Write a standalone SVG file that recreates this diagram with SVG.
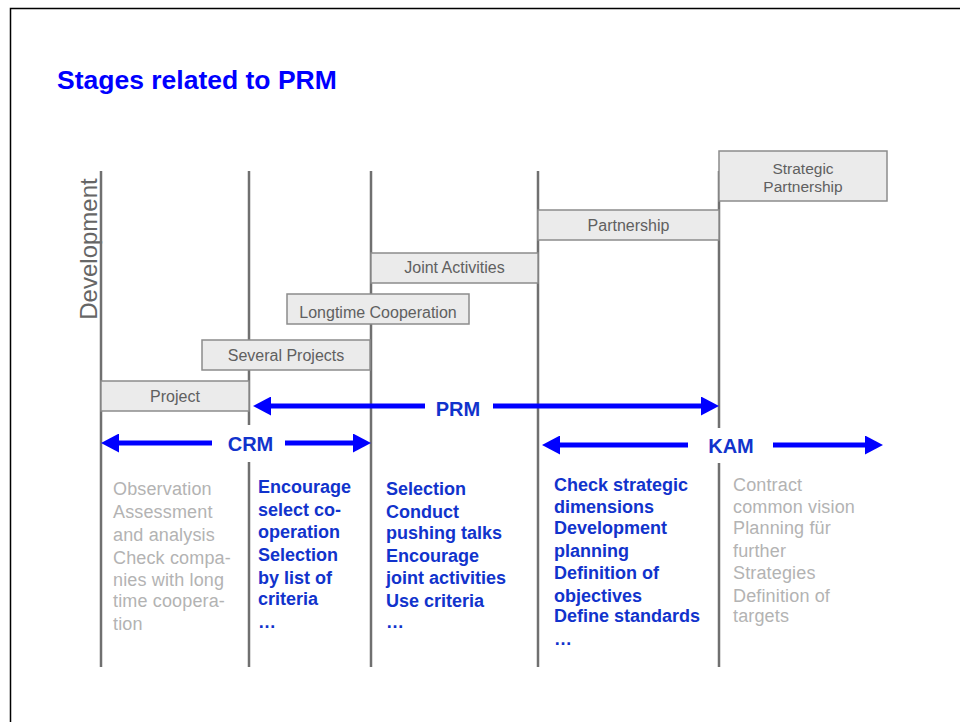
<svg xmlns="http://www.w3.org/2000/svg" width="960" height="722" viewBox="0 0 960 722">
<style>
.stage{fill:#ebebeb;stroke:#8c8c8c;stroke-width:1.5}
.lbl{font-family:"Liberation Sans",Arial,sans-serif;font-size:16px;fill:#606060;text-anchor:middle}
.vl{stroke:#707070;stroke-width:2.5}
.arr{stroke:#0000ff;stroke-width:5;fill:none;marker-end:url(#ah)}
.alab{font-family:"Liberation Sans",Arial,sans-serif;font-size:20px;font-weight:bold;fill:#1133cc;text-anchor:middle}
.gray{font-family:"Liberation Sans",Arial,sans-serif;font-size:18px;fill:#b3b3b3;letter-spacing:0.15px}
.blue{font-family:"Liberation Sans",Arial,sans-serif;font-size:18px;font-weight:bold;fill:#1133cc}
</style>
<defs>
<marker id="ah" viewBox="0 0 18 19" refX="8" refY="9.5" markerWidth="18" markerHeight="19" markerUnits="userSpaceOnUse" orient="auto">
<path d="M0,0 L18,9.5 L0,19 z" fill="#0000ff"/>
</marker>
</defs>
<rect x="0" y="0" width="960" height="722" fill="#ffffff"/>
<rect x="10.5" y="8.5" width="1000" height="800" fill="none" stroke="#000" stroke-width="1.5"/>
<text x="57" y="89" font-family="Liberation Sans,Arial,sans-serif" font-size="26.5" font-weight="bold" fill="#0000ff">Stages related to PRM</text>
<text x="97" y="249" transform="rotate(-90 97 249)" font-family="Liberation Sans,Arial,sans-serif" font-size="24" fill="#666" text-anchor="middle">Development</text>
<g id="axes">
<line class="vl" x1="101" y1="171" x2="101" y2="667"/>
<line class="vl" x1="249" y1="171" x2="249" y2="667"/>
<line class="vl" x1="371" y1="171" x2="371" y2="667"/>
<line class="vl" x1="538" y1="171" x2="538" y2="667"/>
<line class="vl" x1="719" y1="171" x2="719" y2="667"/>
</g>
<g id="project"><rect class="stage" x="101" y="381" width="148" height="30"/><text class="lbl" x="175" y="402">Project</text></g>
<g id="several-projects"><rect class="stage" x="202" y="340" width="168" height="30"/><text class="lbl" x="286" y="361">Several Projects</text></g>
<g id="longtime-cooperation"><rect class="stage" x="287" y="294" width="182" height="30"/><text class="lbl" x="378" y="318">Longtime Cooperation</text></g>
<g id="joint-activities"><rect class="stage" x="371" y="253" width="167" height="30"/><text class="lbl" x="454.5" y="273">Joint Activities</text></g>
<g id="partnership"><rect class="stage" x="538" y="210" width="181" height="30"/><text class="lbl" x="628.5" y="231">Partnership</text></g>
<g id="strategic-partnership"><rect class="stage" x="719" y="151" width="168" height="50"/><text class="lbl" x="803" y="174" style="font-size:15.5px">Strategic</text><text class="lbl" x="803" y="192" style="font-size:15.5px">Partnership</text></g>
<g id="connectors">
<line class="arr" x1="425" y1="406" x2="263" y2="406"/>
<line class="arr" x1="493" y1="406" x2="709" y2="406"/>
<line class="arr" x1="212" y1="443" x2="111" y2="443"/>
<line class="arr" x1="285" y1="443" x2="361" y2="443"/>
<line class="arr" x1="688" y1="445" x2="552" y2="445"/>
<line class="arr" x1="773" y1="445" x2="873" y2="445"/>
</g>
<g id="label-prm"><text class="alab" x="458" y="416">PRM</text></g>
<g id="label-crm"><rect x="216" y="425" width="66" height="37" fill="#fff"/><text class="alab" x="250.5" y="451">CRM</text></g>
<g id="label-kam"><rect x="694" y="428" width="74" height="35" fill="#fff"/><text class="alab" x="731" y="453">KAM</text></g>
<g id="col1" class="gray">
<text x="113" y="495">Observation</text>
<text x="113" y="518">Assessment</text>
<text x="113" y="541">and analysis</text>
<text x="113" y="564">Check compa-</text>
<text x="113" y="586">nies with long</text>
<text x="113" y="607">time coopera-</text>
<text x="113" y="630">tion</text>
</g>
<g id="col2" class="blue">
<text x="258" y="493">Encourage</text>
<text x="258" y="516">select co-</text>
<text x="258" y="538">operation</text>
<text x="258" y="561">Selection</text>
<text x="258" y="584">by list of</text>
<text x="258" y="605">criteria</text>
<text x="258" y="628">…</text>
</g>
<g id="col3" class="blue">
<text x="386" y="495">Selection</text>
<text x="386" y="518">Conduct</text>
<text x="386" y="539">pushing talks</text>
<text x="386" y="562">Encourage</text>
<text x="386" y="584">joint activities</text>
<text x="386" y="607">Use criteria</text>
<text x="386" y="628">…</text>
</g>
<g id="col4" class="blue">
<text x="554" y="491">Check strategic</text>
<text x="554" y="513">dimensions</text>
<text x="554" y="534">Development</text>
<text x="554" y="557">planning</text>
<text x="554" y="579">Definition of</text>
<text x="554" y="602">objectives</text>
<text x="554" y="622">Define standards</text>
<text x="554" y="645">…</text>
</g>
<g id="col5" class="gray">
<text x="733" y="491">Contract</text>
<text x="733" y="513">common vision</text>
<text x="733" y="534">Planning für</text>
<text x="733" y="557">further</text>
<text x="733" y="579">Strategies</text>
<text x="733" y="602">Definition of</text>
<text x="733" y="622">targets</text>
</g>
</svg>
